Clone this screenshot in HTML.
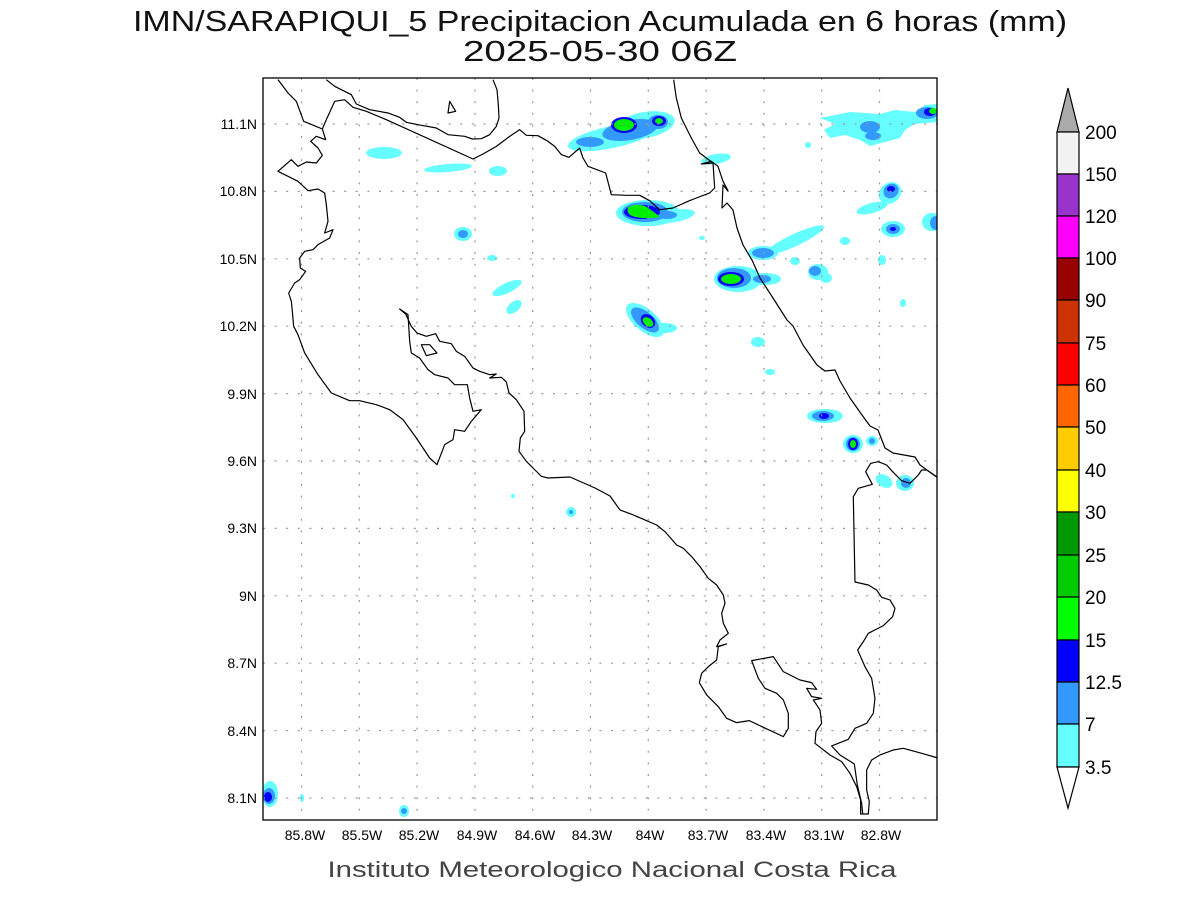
<!DOCTYPE html>
<html><head><meta charset="utf-8"><style>
html,body{margin:0;padding:0;background:#fff;}
svg{display:block;}
text{font-family:"Liberation Sans",sans-serif;}
</style></head><body>
<svg width="1200" height="900" viewBox="0 0 1200 900" xmlns="http://www.w3.org/2000/svg">
<rect width="1200" height="900" fill="#fff"/>
<text x="600" y="31" font-size="29" text-anchor="middle" textLength="934" lengthAdjust="spacingAndGlyphs" fill="#111">IMN/SARAPIQUI_5 Precipitacion Acumulada en 6 horas (mm)</text>
<text x="600" y="61" font-size="29" text-anchor="middle" textLength="274" lengthAdjust="spacingAndGlyphs" fill="#111">2025-05-30 06Z</text>

<defs><clipPath id="c"><rect x="263" y="78" width="674" height="742"/></clipPath></defs>
<g clip-path="url(#c)">
<g fill="#66ffff">
<ellipse cx="612" cy="137" rx="45" ry="11" transform="rotate(-12 612 137)"/>
<ellipse cx="645" cy="125" rx="30" ry="13" transform="rotate(-10 645 125)"/>
<ellipse cx="648" cy="213" rx="32" ry="13"/>
<ellipse cx="675" cy="216" rx="20" ry="6" transform="rotate(-10 675 216)"/>
<ellipse cx="738" cy="279" rx="24" ry="13"/>
<ellipse cx="765" cy="279" rx="16" ry="6"/>
<ellipse cx="645" cy="320" rx="23" ry="11" transform="rotate(40 645 320)"/>
<ellipse cx="665" cy="328" rx="12" ry="5"/>
<ellipse cx="384" cy="153" rx="18" ry="6"/>
<ellipse cx="448" cy="168" rx="24" ry="4" transform="rotate(-5 448 168)"/>
<ellipse cx="498" cy="171" rx="9" ry="5"/>
<ellipse cx="463" cy="234" rx="9" ry="7"/>
<ellipse cx="492" cy="258" rx="5" ry="3"/>
<ellipse cx="507" cy="288" rx="16" ry="5" transform="rotate(-25 507 288)"/>
<ellipse cx="514" cy="307" rx="9" ry="5" transform="rotate(-40 514 307)"/>
<ellipse cx="716" cy="159" rx="15" ry="5" transform="rotate(-10 716 159)"/>
<ellipse cx="702" cy="238" rx="3" ry="2"/>
<ellipse cx="763" cy="253" rx="15" ry="7"/>
<ellipse cx="795" cy="240" rx="32" ry="6" transform="rotate(-25 795 240)"/>
<ellipse cx="795" cy="261" rx="5" ry="4"/>
<ellipse cx="845" cy="241" rx="5" ry="4"/>
<ellipse cx="882" cy="260" rx="4" ry="5"/>
<ellipse cx="903" cy="303" rx="3" ry="4"/>
<ellipse cx="818" cy="272" rx="10" ry="8"/>
<ellipse cx="826" cy="278" rx="6" ry="5"/>
<ellipse cx="758" cy="342" rx="7" ry="5"/>
<ellipse cx="770" cy="372" rx="5" ry="3"/>
<ellipse cx="808" cy="145" rx="3" ry="3"/>
<path d="M820 118 L850 112 L880 114 L895 110 L915 112 L925 105 L937 104 L937 122 L915 124 L905 130 L900 138 L885 142 L870 146 L860 140 L845 135 L830 138 L824 130 L835 124 Z"/>
<ellipse cx="890" cy="193" rx="12" ry="10" transform="rotate(-40 890 193)"/>
<ellipse cx="872" cy="208" rx="16" ry="5" transform="rotate(-15 872 208)"/>
<ellipse cx="893" cy="229" rx="12" ry="8"/>
<ellipse cx="932" cy="222" rx="10" ry="9"/>
<ellipse cx="825" cy="416" rx="18" ry="7"/>
<ellipse cx="853" cy="444" rx="10" ry="9"/>
<ellipse cx="872" cy="441" rx="6" ry="5"/>
<ellipse cx="884" cy="481" rx="9" ry="6" transform="rotate(30 884 481)"/>
<ellipse cx="905" cy="483" rx="9" ry="8"/>
<ellipse cx="513" cy="496" rx="2" ry="2"/>
<ellipse cx="571" cy="512" rx="5" ry="5"/>
<ellipse cx="270" cy="794" rx="8" ry="13"/>
<ellipse cx="302" cy="798" rx="2" ry="4"/>
<ellipse cx="404" cy="811" rx="5" ry="6"/>
</g>
<g fill="#3399ff">
<ellipse cx="630" cy="130" rx="28" ry="10" transform="rotate(-10 630 130)"/>
<ellipse cx="658" cy="122" rx="10" ry="7"/>
<ellipse cx="590" cy="142" rx="14" ry="5"/>
<ellipse cx="645" cy="212" rx="23" ry="10"/>
<ellipse cx="667" cy="215" rx="10" ry="4"/>
<ellipse cx="734" cy="278" rx="17" ry="10"/>
<ellipse cx="762" cy="279" rx="9" ry="4"/>
<ellipse cx="645" cy="320" rx="17" ry="8" transform="rotate(40 645 320)"/>
<ellipse cx="463" cy="234" rx="5" ry="4"/>
<ellipse cx="763" cy="253" rx="11" ry="5"/>
<ellipse cx="815" cy="271" rx="6" ry="5"/>
<ellipse cx="870" cy="127" rx="10" ry="6"/>
<ellipse cx="873" cy="136" rx="8" ry="4"/>
<ellipse cx="927" cy="113" rx="11" ry="6"/>
<ellipse cx="891" cy="191" rx="8" ry="7" transform="rotate(-40 891 191)"/>
<ellipse cx="893" cy="229" rx="7" ry="5"/>
<ellipse cx="936" cy="223" rx="6" ry="7"/>
<ellipse cx="823" cy="416" rx="11" ry="5"/>
<ellipse cx="853" cy="444" rx="7" ry="7"/>
<ellipse cx="872" cy="441" rx="3" ry="3"/>
<ellipse cx="906" cy="483" rx="5" ry="5"/>
<ellipse cx="571" cy="512" rx="2" ry="2"/>
<ellipse cx="269" cy="796" rx="6" ry="8"/>
<ellipse cx="404" cy="811" rx="3" ry="3"/>
</g>
<g fill="#0000ff">
<ellipse cx="624" cy="125" rx="13" ry="8"/>
<ellipse cx="659" cy="121" rx="7" ry="5"/>
<ellipse cx="642" cy="212" rx="18" ry="7"/>
<ellipse cx="731" cy="279" rx="13" ry="7"/>
<ellipse cx="648" cy="321" rx="8" ry="6" transform="rotate(40 648 321)"/>
<ellipse cx="891" cy="189" rx="4" ry="3"/>
<ellipse cx="893" cy="229" rx="3" ry="2"/>
<ellipse cx="930" cy="112" rx="6" ry="4"/>
<ellipse cx="824" cy="416" rx="5" ry="3"/>
<ellipse cx="853" cy="444" rx="5" ry="6"/>
<ellipse cx="268" cy="797" rx="4" ry="5"/>
</g>
<g fill="#00ee00">
<ellipse cx="624" cy="125" rx="10" ry="6"/>
<ellipse cx="659" cy="121" rx="4" ry="3"/>
<path d="M628 208 Q632 203 645 206 L654 212 L660 217 Q645 220 632 216 Q626 213 628 208 Z"/>
<ellipse cx="731" cy="279" rx="10" ry="5"/>
<ellipse cx="648" cy="322" rx="6" ry="4" transform="rotate(40 648 322)"/>
<ellipse cx="933" cy="111" rx="4" ry="3"/>
<ellipse cx="853" cy="444" rx="3" ry="4"/>
</g>
<g stroke="#999" stroke-width="1.2" stroke-dasharray="2 9.6">
<line x1="301.5" y1="78" x2="301.5" y2="820"/><line x1="359.3" y1="78" x2="359.3" y2="820"/><line x1="417.1" y1="78" x2="417.1" y2="820"/><line x1="474.9" y1="78" x2="474.9" y2="820"/><line x1="532.7" y1="78" x2="532.7" y2="820"/><line x1="590.5" y1="78" x2="590.5" y2="820"/><line x1="648.3" y1="78" x2="648.3" y2="820"/><line x1="706.1" y1="78" x2="706.1" y2="820"/><line x1="763.9" y1="78" x2="763.9" y2="820"/><line x1="821.7" y1="78" x2="821.7" y2="820"/><line x1="879.5" y1="78" x2="879.5" y2="820"/>
<line x1="263" y1="124" x2="937" y2="124"/><line x1="263" y1="191.4" x2="937" y2="191.4"/><line x1="263" y1="258.8" x2="937" y2="258.8"/><line x1="263" y1="326.2" x2="937" y2="326.2"/><line x1="263" y1="393.6" x2="937" y2="393.6"/><line x1="263" y1="461" x2="937" y2="461"/><line x1="263" y1="528.4" x2="937" y2="528.4"/><line x1="263" y1="595.8" x2="937" y2="595.8"/><line x1="263" y1="663.2" x2="937" y2="663.2"/><line x1="263" y1="730.6" x2="937" y2="730.6"/><line x1="263" y1="798" x2="937" y2="798"/>
</g>
<g fill="none" stroke="#000" stroke-width="1.2" stroke-linejoin="round">
<g transform="translate(263,78) scale(0.33333)">
<path vector-effect="non-scaling-stroke" d="M45 5 L75 45 L100 70 L122 130 L178 153 L188 185 L160 175 L143 190 L165 210 L178 232 L160 255 L130 252 L105 265 L85 245 L45 280 L105 310 L135 338 L165 333 L185 345 L190 380 L195 430 L185 465 L210 455 L200 480 L165 500 L150 515 L125 520 L110 540 L112 570 L128 580 L110 605 L95 615 L77 645 L85 670 L88 700 L92 745 L105 770 L125 825 L165 890 L205 945 L260 968 L290 968 L340 980 L380 995 L420 1025 L460 1080 L500 1140 L522 1160 L545 1100 L570 1085 L575 1055 L605 1060 L625 1030 L655 995 L630 1000 L620 960 L613 920 L575 920 L555 900 L515 890 L495 875 L470 840 L445 825 L440 790 L435 710 L410 693 L428 708 L445 745 L462 765 L490 775 L518 767 L530 790 L565 797 L580 820 L605 835 L630 870 L650 880 L680 890 L700 888 L680 900 L715 898 L730 912 L738 945 L760 965 L783 1000 L785 1060 L772 1080 L768 1120 L790 1150 L810 1170 L835 1195 L855 1200 L921 1197 L996 1230 L1041 1254 L1071 1296"/>
<path vector-effect="non-scaling-stroke" d="M475 800 L500 800 L522 825 L490 833 Z"/>
<path vector-effect="non-scaling-stroke" d="M190 5 L215 25 L265 50 L280 78 L320 95 L375 105 L410 118 L430 133 L465 140 L520 150 L555 170 L605 175 L628 183 L655 182 L680 170 L700 145 L708 120 L706 80 L702 35 L690 5"/>
<path vector-effect="non-scaling-stroke" d="M178 153 L190 125 L215 70 L245 65 L270 88 L310 100 L370 125 L630 243 L660 228 L700 205 L740 175 L770 155 L790 172 L825 173 L855 190 L875 205 L895 230 L918 238 L950 210 L960 240 L975 265 L1028 285 L1045 350 L1090 352 L1130 352 L1160 368 L1190 395 L1230 390 L1275 370 L1300 360 L1340 345 L1355 330 L1350 255 L1315 258 L1345 250 L1365 265 L1380 310 L1395 338"/>
<path vector-effect="non-scaling-stroke" d="M1350 255 L1310 225 L1285 180 L1255 120 L1240 60 L1232 5"/>
<path vector-effect="non-scaling-stroke" d="M555 105 L560 70 L578 100 Z"/>
</g>
<polyline points="728,191 723,185 722,208 727,203 733,210 737,228 743,245 752,260 760,278 773,298 787,320 793,326 803,345 817,365 825,371 835,370 840,381 850,398 862,415 870,426 878,430 885,448 893,453 915,457 920,465 938,478"/>
<g transform="translate(620,460) scale(0.3333)">
<path vector-effect="non-scaling-stroke" d="M0 150 L40 165 L110 195 L135 215 L170 255 L190 265 L215 290 L240 320 L265 355 L290 375 L310 405 L315 430 L305 460 L310 490 L325 520 L300 540 L290 560 L320 552 L295 560 L290 600 L265 620 L245 640 L238 668 L260 705 L295 740 L320 775 L350 788 L388 782 L430 802 L490 830 L505 805 L505 760 L490 720 L470 700 L435 685 L415 655 L395 602 L460 590 L490 635 L540 660 L575 668 L590 688 L560 685 L575 710 L605 715 L580 720 L600 750 L605 790 L588 815 L585 850 L630 885 L665 905 L690 940 L710 980 L722 1020 L722 1062 L745 1062 L748 1025 L740 990 L740 930 L755 900 L780 885 L820 870 L850 865 L905 880 L950 893"/>
<path vector-effect="non-scaling-stroke" d="M728 1060 L725 1030 L712 975 L703 912 L660 885 L635 858 L685 838 L705 805 L740 790 L760 760 L765 715 L755 655 L735 620 L713 570 L730 545 L745 520 L790 497 L818 470 L825 445 L810 420 L785 412 L770 390 L745 375 L705 366 L700 110 L715 85 L757 73 L737 35 L752 10 L775 5 L800 15 L818 35 L845 62 L870 70 L895 45 L905 30 L920 30 L950 50"/>
</g>
</g>
</g>
<rect x="263" y="78" width="674" height="742" fill="none" stroke="#000" stroke-width="1.3"/>
<g font-size="14" text-anchor="end" fill="#000">
<text x="257" y="129">11.1N</text><text x="257" y="196">10.8N</text><text x="257" y="264">10.5N</text><text x="257" y="331">10.2N</text><text x="257" y="399">9.9N</text><text x="257" y="466">9.6N</text><text x="257" y="533">9.3N</text><text x="257" y="601">9N</text><text x="257" y="668">8.7N</text><text x="257" y="736">8.4N</text><text x="257" y="803">8.1N</text>
</g>
<g font-size="14" text-anchor="middle" fill="#000">
<text x="305" y="840">85.8W</text><text x="362" y="840">85.5W</text><text x="419" y="840">85.2W</text><text x="477" y="840">84.9W</text><text x="535" y="840">84.6W</text><text x="592" y="840">84.3W</text><text x="650" y="840">84W</text><text x="708" y="840">83.7W</text><text x="766" y="840">83.4W</text><text x="824" y="840">83.1W</text><text x="881" y="840">82.8W</text>
</g>
<text x="612" y="877" font-size="22" text-anchor="middle" textLength="569" lengthAdjust="spacingAndGlyphs" fill="#444">Instituto Meteorologico Nacional Costa Rica</text>
<g stroke="#000" stroke-width="1.2">
<polygon points="1057,132 1079,132 1068,88" fill="#aaaaaa"/>
<rect x="1057" y="132" width="22" height="42" fill="#f2f2f2"/>
<rect x="1057" y="174" width="22" height="42" fill="#9933cc"/>
<rect x="1057" y="216" width="22" height="42" fill="#ff00ff"/>
<rect x="1057" y="258" width="22" height="42" fill="#990000"/>
<rect x="1057" y="300" width="22" height="43" fill="#cc3300"/>
<rect x="1057" y="343" width="22" height="42" fill="#ff0000"/>
<rect x="1057" y="385" width="22" height="42" fill="#ff6600"/>
<rect x="1057" y="427" width="22" height="43" fill="#ffcc00"/>
<rect x="1057" y="470" width="22" height="42" fill="#ffff00"/>
<rect x="1057" y="512" width="22" height="43" fill="#009900"/>
<rect x="1057" y="555" width="22" height="42" fill="#00cc00"/>
<rect x="1057" y="597" width="22" height="43" fill="#00ff00"/>
<rect x="1057" y="640" width="22" height="42" fill="#0000ff"/>
<rect x="1057" y="682" width="22" height="42" fill="#3399ff"/>
<rect x="1057" y="724" width="22" height="43" fill="#66ffff"/>
<polygon points="1057,767 1079,767 1068,808" fill="#ffffff"/>
</g>
<g font-size="19" fill="#000">
<text x="1085" y="139">200</text><text x="1085" y="181">150</text><text x="1085" y="223">120</text><text x="1085" y="265">100</text><text x="1085" y="307">90</text><text x="1085" y="350">75</text><text x="1085" y="392">60</text><text x="1085" y="434">50</text><text x="1085" y="477">40</text><text x="1085" y="519">30</text><text x="1085" y="562">25</text><text x="1085" y="604">20</text><text x="1085" y="647">15</text><text x="1085" y="689">12.5</text><text x="1085" y="731">7</text><text x="1085" y="774">3.5</text>
</g>
</svg>
</body></html>
